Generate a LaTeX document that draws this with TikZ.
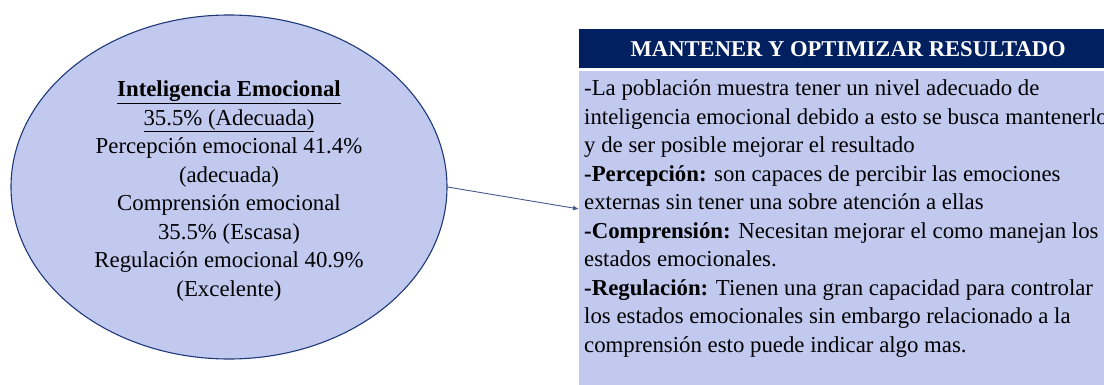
\documentclass[tikz,border=0pt]{standalone}
\usepackage{fontspec}
\setmainfont{Liberation Serif}
\usepackage{tikz}
\usetikzlibrary{arrows.meta,positioning,shapes.geometric}

\definecolor{lila}{RGB}{193,201,239}
\definecolor{marino}{RGB}{0,32,96}
\definecolor{borde}{RGB}{31,56,120}
\definecolor{flecha}{RGB}{70,88,140}

\begin{document}
\begin{tikzpicture}[x=1pt,y=1pt,
  elipse/.style={ellipse,draw=borde,line width=1.1pt,fill=lila,minimum width=436pt,minimum height=344pt,inner sep=0pt,align=center,font=\fontsize{22.8}{28.5}\selectfont},
  cabecera/.style={rectangle,fill=marino,text=white,minimum width=538pt,minimum height=39pt,inner sep=0pt,font=\fontsize{22.6}{26}\selectfont\bfseries},
  cuerpo/.style={rectangle,fill=lila,minimum width=538pt,minimum height=330pt,inner sep=0pt},
  texto/.style={inner sep=0pt,align=left,font=\fontsize{22.8}{28.5}\selectfont},
  flechita/.style={draw=flecha,line width=0.9pt,-{Latex[length=6pt,width=5pt]}}]

\useasboundingbox (0,0) rectangle (1104,384);

\clip (0,0) rectangle (1104,384);

\node[elipse] (ie) at (229,197) {\rule{0pt}{24pt}\underline{\textbf{Inteligencia Emocional}}\\
\underline{35.5\% (Adecuada)}\\
Percepción emocional 41.4\%\\
(adecuada)\\
Comprensión emocional\\
35.5\% (Escasa)\\
Regulación emocional 40.9\%\\
(Excelente)};

\node[cabecera,anchor=north west] (titulo) at (579,355) {MANTENER Y OPTIMIZAR RESULTADO};

\node[cuerpo,below =2.5pt of titulo] (caja) {};

\node[texto,anchor=north west] (conclusion) at ([xshift=5pt,yshift=-9pt]caja.north west) {-La población muestra tener un nivel adecuado de\\
inteligencia emocional debido a esto se busca mantenerlo\\
y de ser posible mejorar el resultado\\
\textbf{-Percepción:} son capaces de percibir las emociones\\
externas sin tener una sobre atención a ellas\\
\textbf{-Comprensión:} Necesitan mejorar el como manejan los\\
estados emocionales.\\
\textbf{-Regulación:} Tienen una gran capacidad para controlar\\
los estados emocionales sin embargo relacionado a la\\
comprensión esto puede indicar algo mas.};

\coordinate (punta) at (579,175);

\draw[flechita] (ie.east) -- (punta);

\end{tikzpicture}
\end{document}
